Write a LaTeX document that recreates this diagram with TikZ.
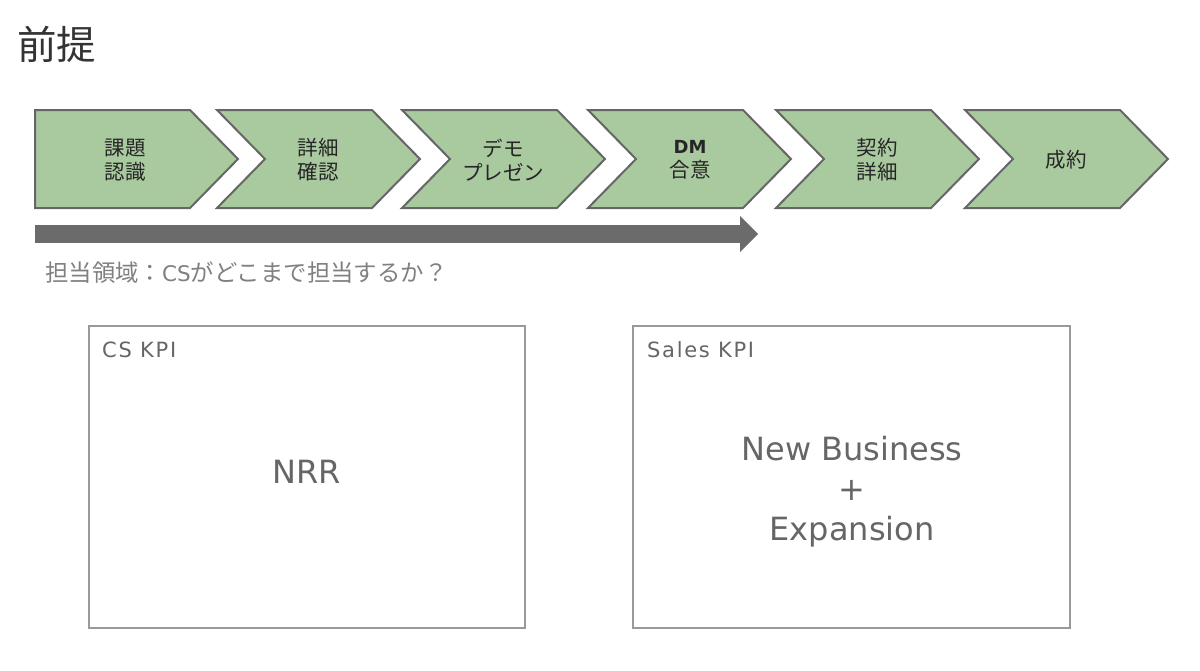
\documentclass[tikz,border=0pt]{standalone}
\usepackage{fontspec}
\setmainfont{Noto Sans CJK JP}
\newfontfamily\latinfont{DejaVu Sans}
\newfontfamily\latinsp[LetterSpace=8]{DejaVu Sans}
\begin{document}
\begin{tikzpicture}[x=1pt,y=-1pt,
  chev/.style={fill=chevfill,draw=chevline,line width=2pt,line join=miter},
  chevtext/.style={font=\fontsize{20.5}{24}\selectfont,text=black!85,align=center,inner sep=0pt},
  kpibox/.style={draw=boxline,line width=1.5pt},
  kpititle/.style={font=\latinsp\fontsize{21}{24}\selectfont,text=kpigray,anchor=west,inner sep=0pt},
  kpibig/.style={font=\latinfont\fontsize{32}{40}\selectfont,text=kpigray,align=center,inner sep=0pt}]
\definecolor{chevfill}{HTML}{A9C99F}
\definecolor{chevline}{HTML}{666666}
\definecolor{boxline}{HTML}{999999}
\definecolor{kpigray}{HTML}{666666}
\definecolor{arrowgray}{HTML}{6B6B6B}
\useasboundingbox (0,0) rectangle (1200,670);
\fill[white] (0,0) rectangle (1200,670);
% title
\node[anchor=west,inner sep=0pt,font=\fontsize{39.5}{42}\selectfont,text=black!80] (title) at (17,44) {前提};
% chevrons
\draw[chev] (35,110) -- (190,110) -- (238,159) -- (190,208) -- (35,208) -- cycle;
\foreach \s in {217,402,588,776,965}{
  \draw[chev] (\s,110) -- (\s+155,110) -- (\s+203,159) -- (\s+155,208) -- (\s,208) -- (\s+48,159) -- cycle;
}
\node[chevtext] (c1) at (125,160) {課題\\認識};
\node[chevtext] (c2) at (318,160) {詳細\\確認};
\node[chevtext] (c3) at (503,160) {デモ\\プレゼン};
\node[chevtext] (c4) at (690,160) {{\latinfont\bfseries\fontsize{18}{24}\selectfont DM}\\合意};
\node[chevtext] (c5) at (877,160) {契約\\詳細};
\node[chevtext] (c6) at (1066,160) {成約};
% scope arrow
\coordinate (as) at (35,234);
\coordinate (ae) at (740,234);
\coordinate (at) at (758,234);
\fill[arrowgray] (35,225) rectangle (741,243);
\fill[arrowgray] (740,216) -- (758,234) -- (740,252) -- cycle;
\node[anchor=west,inner sep=0pt,font=\fontsize{23.4}{26}\selectfont,text=black!50] (scope) at (45,273) {担当領域：{\latinfont\fontsize{21.5}{26}\selectfont CS}がどこまで担当するか？};
% KPI boxes
\draw[kpibox] (89,326) rectangle (525,628);
\draw[kpibox] (633,326) rectangle (1070,628);
\node[kpititle] (cst) at (102,350) {CS KPI};
\node[kpibig] (nrr) at (307,472) {NRR};
\node[kpititle] (st) at (647,350) {Sales KPI};
\node[kpibig] (sk) at (852,492) {New Business\\+\\Expansion};
\end{tikzpicture}
\end{document}
